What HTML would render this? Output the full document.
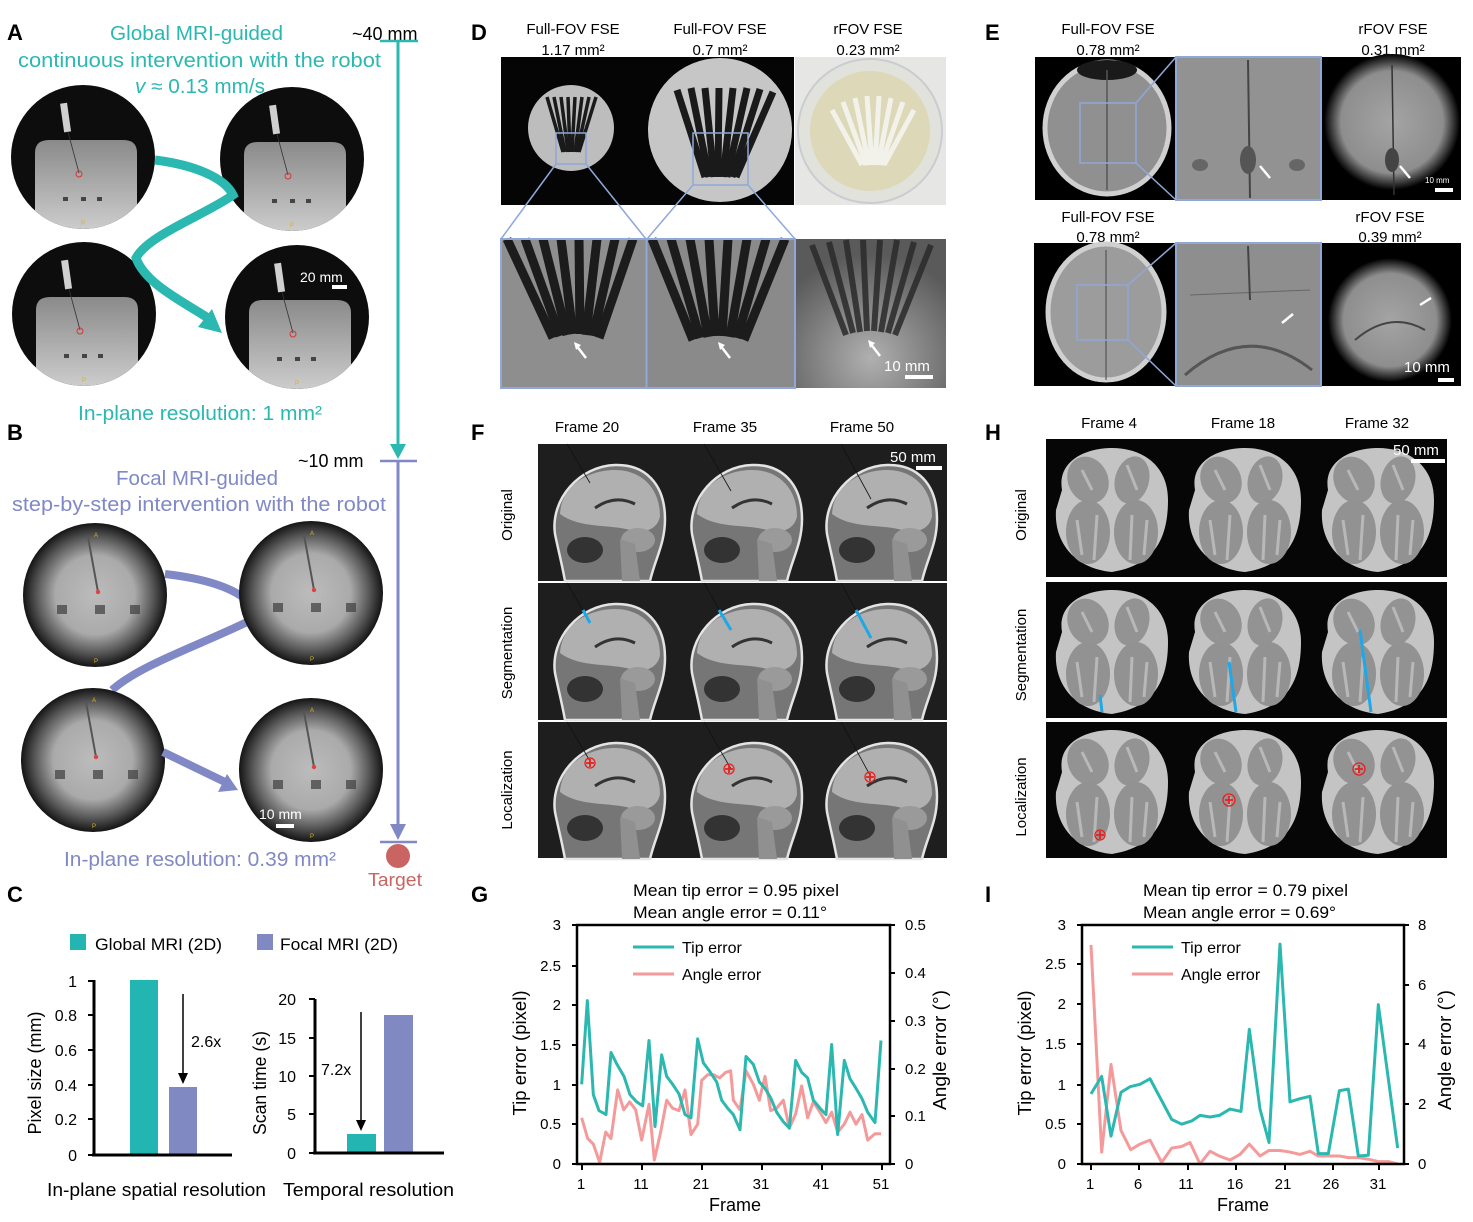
<!DOCTYPE html>
<html><head><meta charset="utf-8"><style>
html,body{margin:0;padding:0;background:#fff;}
svg{display:block;}
text{font-family:"Liberation Sans",sans-serif;}
</style></head><body>
<svg width="1473" height="1222" viewBox="0 0 1473 1222" xmlns="http://www.w3.org/2000/svg">
<defs>
<linearGradient id="gA" x1="0" y1="0" x2="0" y2="1"><stop offset="0" stop-color="#8a8a8a"/><stop offset="1" stop-color="#d2d2d2"/></linearGradient>
<radialGradient id="gB" cx=".5" cy=".5" r=".5"><stop offset="0" stop-color="#bcbcbc"/><stop offset=".55" stop-color="#aaaaaa"/><stop offset=".8" stop-color="#5a5a5a"/><stop offset="1" stop-color="#141414"/></radialGradient>
<radialGradient id="gE" cx=".5" cy=".5" r=".5"><stop offset="0" stop-color="#a4a4a4"/><stop offset=".75" stop-color="#8e8e8e"/><stop offset="1" stop-color="#000"/></radialGradient>
<radialGradient id="gD3" cx=".5" cy=".8" r=".7"><stop offset="0" stop-color="#b0b0b0"/><stop offset="1" stop-color="#5a5a5a"/></radialGradient>
<clipPath id="cA"><circle r="72"/></clipPath>
<g id="phA">
<circle r="72" fill="#0d0d0d"/>
<g clip-path="url(#cA)"><path d="M-48,80 L-48,-4 Q-48,-17 -34,-17 L40,-17 Q54,-17 54,-4 L54,80 Z" fill="url(#gA)"/></g>
<rect x="-21" y="-54" width="7" height="29" fill="#d0d0d0" transform="rotate(-8 -17 -40)"/>
<line x1="-15" y1="-25" x2="-4" y2="16" stroke="#333" stroke-width="0.8"/>
<circle cx="-4" cy="17" r="3" fill="none" stroke="#d33" stroke-width="1"/>
<rect x="-20" y="40" width="5" height="4" fill="#444"/><rect x="-2" y="40" width="5" height="4" fill="#444"/><rect x="14" y="40" width="5" height="4" fill="#444"/>
<text x="-2" y="68" font-size="6" fill="#d8b020">P</text>
</g>
<g id="phB">
<circle r="72" fill="url(#gB)"/>
<line x1="-7" y1="-58" x2="3" y2="-3" stroke="#555" stroke-width="2"/>
<circle cx="3" cy="-3" r="2.2" fill="#e04040"/>
<rect x="-38" y="10" width="10" height="9" fill="#444" opacity=".75"/><rect x="0" y="10" width="10" height="9" fill="#444" opacity=".75"/><rect x="35" y="10" width="10" height="9" fill="#444" opacity=".75"/>
<text x="-1" y="-58" font-size="6" fill="#d8b020">A</text>
<text x="-1" y="68" font-size="6" fill="#d8b020">P</text>
</g>
<g id="head">
<path d="M5,90 C0,55 30,22 65,21 C95,20 115,40 115,75 C115,100 105,115 100,137 L15,137 C12,120 8,105 5,90 Z" fill="#767676" stroke="#e4e4e4" stroke-width="2.5"/>
<path d="M10,70 C12,40 40,26 65,26 C92,26 110,45 110,72 C108,85 95,90 80,86 C60,80 30,85 10,70 Z" fill="#b0b0b0"/>
<ellipse cx="88" cy="96" rx="17" ry="12" fill="#9a9a9a"/>
<ellipse cx="35" cy="106" rx="18" ry="13" fill="#333"/>
<path d="M45,64 Q65,50 85,60" stroke="#333" stroke-width="3" fill="none"/>
<path d="M70,95 L72,137 L90,137 L85,100 Z" fill="#909090"/>
</g>
<g id="brain">
<path d="M-50,-20 C-55,-50 -25,-62 0,-62 C30,-62 56,-45 56,-10 C56,25 45,55 0,62 C-40,58 -58,30 -56,0 Z" fill="#c4c4c4"/>
<ellipse cx="-24" cy="-30" rx="20" ry="24" fill="#939393" transform="rotate(-25 -24 -30)"/>
<ellipse cx="20" cy="-30" rx="17" ry="24" fill="#939393" transform="rotate(15 20 -30)"/>
<ellipse cx="-24" cy="22" rx="22" ry="32" fill="#929292"/>
<ellipse cx="24" cy="22" rx="22" ry="32" fill="#929292"/>
<path d="M-30,-40 L-20,-20 M-35,10 L-30,45 M-15,5 L-18,50 M20,5 L18,50 M35,10 L32,45 M15,-45 L25,-20" stroke="#b8b8b8" stroke-width="3"/>
</g>
</defs>

<!-- ============ Panel letters ============ -->
<g font-size="22" font-weight="bold" fill="#000">
<text x="7" y="40">A</text><text x="7" y="440">B</text><text x="7" y="902">C</text>
<text x="471" y="40">D</text><text x="985" y="40">E</text>
<text x="471" y="440">F</text><text x="985" y="440">H</text>
<text x="471" y="902">G</text><text x="985" y="902">I</text>
</g>

<!-- ============ Panel A ============ -->
<g fill="#2bb8b0" font-size="20">
<text x="110" y="40" textLength="173" lengthAdjust="spacingAndGlyphs">Global MRI-guided</text>
<text x="18" y="67" textLength="363" lengthAdjust="spacingAndGlyphs">continuous intervention with the robot</text>
<text x="135" y="93" textLength="130" lengthAdjust="spacingAndGlyphs"><tspan font-style="italic">v</tspan> ≈ 0.13 mm/s</text>
<text x="78" y="420" textLength="244" lengthAdjust="spacingAndGlyphs">In-plane resolution: 1 mm²</text>
</g>
<use href="#phA" x="83" y="157"/>
<use href="#phA" x="292" y="159"/>
<use href="#phA" x="84" y="314"/>
<use href="#phA" x="297" y="317"/>
<path d="M155,160 C195,165 225,178 233,195 C205,215 148,235 136,258 C145,283 180,300 208,318" fill="none" stroke="#2bb8b0" stroke-width="9"/>
<polygon points="222,333 198,327 212,309" fill="#2bb8b0"/>
<text x="300" y="282" font-size="14" fill="#fff">20 mm</text>
<rect x="332" y="285" width="15" height="4" fill="#fff"/>

<!-- vertical scale -->
<text x="352" y="40" font-size="18" fill="#000">~40 mm</text>
<line x1="380" y1="41" x2="418" y2="41" stroke="#2bb8b0" stroke-width="2.5"/>
<line x1="398" y1="41" x2="398" y2="448" stroke="#2bb8b0" stroke-width="3"/>
<polygon points="390,444 406,444 398,459" fill="#2bb8b0"/>
<text x="298" y="467" font-size="18" fill="#000">~10 mm</text>
<line x1="380" y1="461" x2="417" y2="461" stroke="#8088c6" stroke-width="2.5"/>
<line x1="398" y1="461" x2="398" y2="828" stroke="#8088c6" stroke-width="3"/>
<polygon points="390,824 406,824 398,840" fill="#8088c6"/>
<line x1="380" y1="842" x2="417" y2="842" stroke="#8088c6" stroke-width="2.5"/>
<circle cx="398" cy="856" r="12" fill="#c96462"/>
<text x="368" y="886" font-size="18" fill="#c96462" textLength="54" lengthAdjust="spacingAndGlyphs">Target</text>

<!-- ============ Panel B ============ -->
<g fill="#8088c6" font-size="20">
<text x="116" y="485" textLength="162" lengthAdjust="spacingAndGlyphs">Focal MRI-guided</text>
<text x="12" y="511" textLength="374" lengthAdjust="spacingAndGlyphs">step-by-step intervention with the robot</text>
<text x="64" y="866" textLength="272" lengthAdjust="spacingAndGlyphs">In-plane resolution: 0.39 mm²</text>
</g>
<path d="M165,574 C200,578 228,586 244,598" fill="none" stroke="#8088c6" stroke-width="8"/>
<path d="M247,622 C200,645 140,665 112,690" fill="none" stroke="#8088c6" stroke-width="8"/>
<use href="#phB" x="95" y="595"/>
<use href="#phB" x="311" y="593"/>
<use href="#phB" x="93" y="760"/>
<use href="#phB" x="311" y="770"/>
<line x1="163" y1="752" x2="225" y2="782" stroke="#8088c6" stroke-width="8"/>
<polygon points="238,790 218,792 227,774" fill="#8088c6"/>
<text x="259" y="819" font-size="14" fill="#fff">10 mm</text>
<rect x="276" y="824" width="18" height="4" fill="#fff"/>

<!-- ============ Panel C ============ -->
<rect x="70" y="934" width="16" height="16" fill="#22b5b1"/>
<text x="95" y="950" font-size="17" textLength="127" lengthAdjust="spacingAndGlyphs">Global MRI (2D)</text>
<rect x="257" y="934" width="16" height="16" fill="#8189c3"/>
<text x="280" y="950" font-size="17" textLength="118" lengthAdjust="spacingAndGlyphs">Focal MRI (2D)</text>
<!-- left chart -->
<rect x="130" y="980" width="28" height="175" fill="#22b5b1"/>
<rect x="169" y="1087" width="28" height="68" fill="#8189c3"/>
<g stroke="#000" stroke-width="3" fill="none">
<line x1="94" y1="980" x2="94" y2="1156"/><line x1="92" y1="1155" x2="232" y2="1155"/>
</g>
<g stroke="#000" stroke-width="2">
<line x1="88" y1="981" x2="94" y2="981"/><line x1="88" y1="1015" x2="94" y2="1015"/><line x1="88" y1="1050" x2="94" y2="1050"/><line x1="88" y1="1085" x2="94" y2="1085"/><line x1="88" y1="1119" x2="94" y2="1119"/><line x1="88" y1="1155" x2="94" y2="1155"/>
</g>
<g font-size="16" text-anchor="end">
<text x="77" y="987">1</text><text x="77" y="1021">0.8</text><text x="77" y="1056">0.6</text><text x="77" y="1091">0.4</text><text x="77" y="1125">0.2</text><text x="77" y="1161">0</text>
</g>
<line x1="183" y1="994" x2="183" y2="1075" stroke="#000" stroke-width="1.5"/>
<polygon points="178,1073 188,1073 183,1084" fill="#000"/>
<text x="191" y="1047" font-size="16">2.6x</text>
<text transform="translate(41,1073) rotate(-90)" font-size="18" text-anchor="middle" textLength="123" lengthAdjust="spacingAndGlyphs">Pixel size (mm)</text>
<!-- right chart -->
<rect x="347" y="1134" width="29" height="19" fill="#22b5b1"/>
<rect x="384" y="1015" width="29" height="138" fill="#8189c3"/>
<g stroke="#000" stroke-width="3" fill="none">
<line x1="315" y1="999" x2="315" y2="1154"/><line x1="313" y1="1153" x2="444" y2="1153"/>
</g>
<g stroke="#000" stroke-width="2">
<line x1="309" y1="999" x2="315" y2="999"/><line x1="309" y1="1038" x2="315" y2="1038"/><line x1="309" y1="1076" x2="315" y2="1076"/><line x1="309" y1="1114" x2="315" y2="1114"/><line x1="309" y1="1153" x2="315" y2="1153"/>
</g>
<g font-size="16" text-anchor="end">
<text x="296" y="1005">20</text><text x="296" y="1044">15</text><text x="296" y="1082">10</text><text x="296" y="1120">5</text><text x="296" y="1159">0</text>
</g>
<line x1="361" y1="1012" x2="361" y2="1122" stroke="#000" stroke-width="1.5"/>
<polygon points="356,1120 366,1120 361,1131" fill="#000"/>
<text x="321" y="1075" font-size="16">7.2x</text>
<text transform="translate(266,1083) rotate(-90)" font-size="18" text-anchor="middle" textLength="104" lengthAdjust="spacingAndGlyphs">Scan time (s)</text>
<text x="47" y="1196" font-size="18" textLength="219" lengthAdjust="spacingAndGlyphs">In-plane spatial resolution</text>
<text x="283" y="1196" font-size="18" textLength="171" lengthAdjust="spacingAndGlyphs">Temporal resolution</text>

<!-- ============ Panel D ============ -->
<g font-size="15" text-anchor="middle">
<text x="573" y="34">Full-FOV FSE</text><text x="573" y="55">1.17 mm²</text>
<text x="720" y="34">Full-FOV FSE</text><text x="720" y="55">0.7 mm²</text>
<text x="868" y="34">rFOV FSE</text><text x="868" y="55">0.23 mm²</text>
</g>
<rect x="501" y="57" width="293" height="148" fill="#050505"/>
<circle cx="571" cy="128" r="43" fill="#bdbdbd"/>
<g stroke="#1a1a1a" stroke-width="3.5">
<line x1="547" y1="97" x2="563" y2="152"/><line x1="554" y1="97" x2="565" y2="152"/><line x1="561" y1="97" x2="568" y2="152"/><line x1="568" y1="97" x2="570" y2="152"/><line x1="575" y1="97" x2="572" y2="152"/><line x1="582" y1="97" x2="575" y2="152"/><line x1="589" y1="97" x2="577" y2="152"/><line x1="596" y1="97" x2="579" y2="152"/>
</g>
<circle cx="720" cy="130" r="72" fill="#c6c6c6"/>
<g stroke="#1a1a1a" stroke-width="7">
<line x1="677" y1="90" x2="705" y2="177"/><line x1="691" y1="88" x2="709" y2="177"/><line x1="705" y1="88" x2="714" y2="177"/><line x1="719" y1="88" x2="718" y2="177"/><line x1="733" y1="88" x2="723" y2="177"/><line x1="747" y1="88" x2="727" y2="177"/><line x1="760" y1="89" x2="732" y2="177"/><line x1="773" y1="92" x2="736" y2="177"/>
</g>
<rect x="556" y="133" width="30" height="31" fill="none" stroke="#8fa8d8" stroke-width="1.5"/>
<rect x="693" y="133" width="55" height="52" fill="none" stroke="#8fa8d8" stroke-width="1.5"/>
<rect x="795" y="57" width="151" height="148" fill="#e6e6e4"/>
<circle cx="870" cy="131" r="72" fill="#e2e2dc" stroke="#c9ccd0" stroke-width="2"/>
<circle cx="870" cy="131" r="60" fill="#dcd8b8"/>
<g stroke="#f2f2ea" stroke-width="5">
<line x1="832" y1="110" x2="862" y2="165"/><line x1="843" y1="102" x2="866" y2="165"/><line x1="855" y1="98" x2="869" y2="165"/><line x1="867" y1="96" x2="872" y2="165"/><line x1="879" y1="96" x2="875" y2="165"/><line x1="891" y1="98" x2="878" y2="165"/><line x1="903" y1="102" x2="881" y2="165"/><line x1="914" y1="110" x2="884" y2="165"/>
</g>
<g stroke="#8fa8d8" stroke-width="1.5">
<line x1="556" y1="164" x2="501" y2="239"/><line x1="586" y1="164" x2="646" y2="239"/>
<line x1="693" y1="185" x2="647" y2="239"/><line x1="748" y1="185" x2="795" y2="239"/>
</g>
<rect x="501" y="239" width="145" height="149" fill="#8e8e8e"/>
<g stroke="#1c1c1c" stroke-width="9">
<line x1="507" y1="239" x2="553" y2="338"/><line x1="525" y1="239" x2="560" y2="336"/><line x1="543" y1="239" x2="567" y2="335"/><line x1="561" y1="239" x2="573" y2="334"/><line x1="579" y1="239" x2="580" y2="334"/><line x1="597" y1="239" x2="586" y2="335"/><line x1="615" y1="239" x2="593" y2="336"/><line x1="633" y1="239" x2="599" y2="338"/>
</g>
<rect x="647" y="239" width="148" height="149" fill="#8a8a8a"/>
<g stroke="#1c1c1c" stroke-width="9">
<line x1="652" y1="239" x2="693" y2="340"/><line x1="671" y1="239" x2="700" y2="338"/><line x1="690" y1="239" x2="708" y2="337"/><line x1="709" y1="239" x2="715" y2="336"/><line x1="728" y1="239" x2="722" y2="336"/><line x1="747" y1="239" x2="730" y2="337"/><line x1="766" y1="239" x2="737" y2="338"/><line x1="785" y1="239" x2="744" y2="340"/>
</g>
<rect x="501" y="239" width="294" height="149" fill="none" stroke="#8fa8d8" stroke-width="2"/>
<line x1="646.5" y1="239" x2="646.5" y2="388" stroke="#8fa8d8" stroke-width="2"/>
<rect x="796" y="239" width="150" height="149" fill="url(#gD3)"/>
<g stroke="#2a2a2a" stroke-width="6" opacity=".85">
<line x1="812" y1="245" x2="846" y2="335"/><line x1="829" y1="242" x2="853" y2="333"/><line x1="846" y1="240" x2="860" y2="332"/><line x1="863" y1="240" x2="867" y2="331"/><line x1="880" y1="240" x2="874" y2="331"/><line x1="897" y1="240" x2="881" y2="332"/><line x1="914" y1="242" x2="888" y2="333"/><line x1="931" y1="245" x2="895" y2="335"/>
</g>
<g stroke="#fff" stroke-width="2.5">
<line x1="586" y1="358" x2="576" y2="345"/><line x1="730" y1="358" x2="720" y2="345"/><line x1="880" y1="356" x2="870" y2="343"/>
</g>
<g fill="#fff"><polygon points="574,342 581,345 576,350"/><polygon points="718,342 725,345 720,350"/><polygon points="868,340 875,343 870,348"/></g>
<text x="884" y="371" font-size="15" fill="#fff">10 mm</text>
<rect x="905" y="375" width="28" height="4" fill="#fff"/>

<!-- ============ Panel E ============ -->
<g font-size="15" text-anchor="middle">
<text x="1108" y="34">Full-FOV FSE</text><text x="1108" y="55">0.78 mm²</text>
<text x="1393" y="34">rFOV FSE</text><text x="1393" y="55">0.31 mm²</text>
<text x="1108" y="222">Full-FOV FSE</text><text x="1108" y="242">0.78 mm²</text>
<text x="1390" y="222">rFOV FSE</text><text x="1390" y="242">0.39 mm²</text>
</g>
<rect x="1035" y="57" width="140" height="143" fill="#000"/>
<ellipse cx="1107" cy="128" rx="62" ry="66" fill="#909090" stroke="#d0d0d0" stroke-width="5"/>
<ellipse cx="1107" cy="70" rx="30" ry="10" fill="#1a1a1a"/>
<line x1="1107" y1="70" x2="1107" y2="190" stroke="#555" stroke-width="1.5"/>
<rect x="1080" y="103" width="56" height="60" fill="none" stroke="#8fa8d8" stroke-width="1.5"/>
<rect x="1176" y="57" width="145" height="143" fill="#929292"/>
<line x1="1248" y1="60" x2="1250" y2="198" stroke="#444" stroke-width="2"/>
<ellipse cx="1248" cy="160" rx="8" ry="14" fill="#555"/>
<ellipse cx="1200" cy="165" rx="8" ry="6" fill="#666"/><ellipse cx="1297" cy="165" rx="8" ry="6" fill="#666"/>
<line x1="1270" y1="178" x2="1260" y2="166" stroke="#fff" stroke-width="2.5"/>
<rect x="1176" y="57" width="145" height="143" fill="none" stroke="#8fa8d8" stroke-width="2"/>
<g stroke="#8fa8d8" stroke-width="1.5"><line x1="1136" y1="103" x2="1176" y2="57"/><line x1="1136" y1="163" x2="1176" y2="200"/></g>
<rect x="1322" y="57" width="139" height="143" fill="#000"/>
<circle cx="1392" cy="122" r="68" fill="url(#gE)"/>
<line x1="1392" y1="65" x2="1394" y2="195" stroke="#333" stroke-width="1.5"/>
<ellipse cx="1392" cy="160" rx="7" ry="12" fill="#444"/>
<line x1="1410" y1="178" x2="1400" y2="166" stroke="#fff" stroke-width="2.5"/>
<text x="1425" y="183" font-size="8" fill="#fff">10 mm</text>
<rect x="1435" y="188" width="18" height="4" fill="#fff"/>

<rect x="1034" y="243" width="141" height="143" fill="#000"/>
<ellipse cx="1106" cy="312" rx="58" ry="68" fill="#9c9c9c" stroke="#d0d0d0" stroke-width="5"/>
<line x1="1106" y1="250" x2="1106" y2="380" stroke="#555" stroke-width="1.2"/>
<rect x="1077" y="285" width="51" height="55" fill="none" stroke="#8fa8d8" stroke-width="1.5"/>
<rect x="1176" y="243" width="145" height="143" fill="#8e8e8e"/>
<path d="M1185,375 Q1248,320 1312,370" stroke="#555" stroke-width="3" fill="none"/>
<line x1="1190" y1="295" x2="1310" y2="290" stroke="#666" stroke-width="1"/>
<line x1="1248" y1="246" x2="1250" y2="300" stroke="#444" stroke-width="2"/>
<line x1="1282" y1="323" x2="1293" y2="314" stroke="#fff" stroke-width="2.5"/>
<rect x="1176" y="243" width="145" height="143" fill="none" stroke="#8fa8d8" stroke-width="2"/>
<g stroke="#8fa8d8" stroke-width="1.5"><line x1="1128" y1="285" x2="1176" y2="243"/><line x1="1128" y1="340" x2="1176" y2="386"/></g>
<rect x="1322" y="243" width="139" height="143" fill="#000"/>
<circle cx="1390" cy="320" r="62" fill="url(#gE)"/>
<path d="M1355,340 Q1390,310 1425,330" stroke="#444" stroke-width="2" fill="none"/>
<line x1="1420" y1="305" x2="1431" y2="298" stroke="#fff" stroke-width="2.5"/>
<text x="1404" y="372" font-size="15" fill="#fff">10 mm</text>
<rect x="1438" y="378" width="16" height="4" fill="#fff"/>

<!-- ============ Panel F ============ -->
<g font-size="15" text-anchor="middle">
<text x="587" y="432">Frame 20</text><text x="725" y="432">Frame 35</text><text x="862" y="432">Frame 50</text>
</g>
<g font-size="15" text-anchor="middle">
<text transform="translate(512,515) rotate(-90)">Original</text>
<text transform="translate(512,653) rotate(-90)">Segmentation</text>
<text transform="translate(512,790) rotate(-90)">Localization</text>
</g>
<rect x="538" y="444" width="409" height="137" fill="#1e1e1e"/>
<rect x="538" y="583" width="409" height="137" fill="#1e1e1e"/>
<rect x="538" y="722" width="409" height="136" fill="#1e1e1e"/>
<use href="#head" x="550" y="444"/><use href="#head" x="687" y="444"/><use href="#head" x="822" y="444"/>
<use href="#head" x="550" y="583"/><use href="#head" x="687" y="583"/><use href="#head" x="822" y="583"/>
<use href="#head" x="550" y="722"/><use href="#head" x="822" y="722"/><use href="#head" x="687" y="722"/>
<g stroke="#111" stroke-width="0.8">
<line x1="567" y1="444" x2="590" y2="483"/><line x1="704" y1="444" x2="731" y2="491"/><line x1="841" y1="444" x2="871" y2="499"/>
<line x1="567" y1="583" x2="590" y2="622"/><line x1="704" y1="583" x2="731" y2="630"/><line x1="841" y1="583" x2="871" y2="638"/>
<line x1="567" y1="722" x2="590" y2="761"/><line x1="704" y1="722" x2="731" y2="769"/><line x1="841" y1="722" x2="871" y2="777"/>
</g>
<g stroke="#1ea8e8" stroke-width="3">
<line x1="583" y1="610" x2="590" y2="623"/><line x1="719" y1="610" x2="731" y2="630"/><line x1="856" y1="610" x2="871" y2="638"/>
</g>
<g stroke="#e82020" fill="none" stroke-width="1.3">
<circle cx="590" cy="763" r="5"/><circle cx="729" cy="769" r="5"/><circle cx="870" cy="777" r="5"/>
<path d="M586,763 h8 M590,759 v8 M725,769 h8 M729,765 v8 M866,777 h8 M870,773 v8" stroke-width="1.8"/>
</g>
<text x="890" y="462" font-size="15" fill="#fff">50 mm</text>
<rect x="916" y="466" width="26" height="4" fill="#fff"/>

<!-- ============ Panel H ============ -->
<g font-size="15" text-anchor="middle">
<text x="1109" y="428">Frame 4</text><text x="1243" y="428">Frame 18</text><text x="1377" y="428">Frame 32</text>
</g>
<g font-size="15" text-anchor="middle">
<text transform="translate(1026,515) rotate(-90)">Original</text>
<text transform="translate(1026,655) rotate(-90)">Segmentation</text>
<text transform="translate(1026,797) rotate(-90)">Localization</text>
</g>
<rect x="1046" y="439" width="401" height="138" fill="#060606"/>
<rect x="1046" y="582" width="401" height="136" fill="#060606"/>
<rect x="1046" y="722" width="401" height="136" fill="#060606"/>
<use href="#brain" x="1112" y="510"/><use href="#brain" x="1245" y="510"/><use href="#brain" x="1378" y="510"/>
<use href="#brain" x="1112" y="652"/><use href="#brain" x="1245" y="652"/><use href="#brain" x="1378" y="652"/>
<use href="#brain" x="1112" y="792"/><use href="#brain" x="1245" y="792"/><use href="#brain" x="1378" y="792"/>
<g stroke="#1ea8e8" stroke-width="3">
<line x1="1100" y1="695" x2="1102" y2="712"/><line x1="1229" y1="662" x2="1236" y2="712"/><line x1="1360" y1="630" x2="1371" y2="712"/>
</g>
<g stroke="#e82020" fill="none" stroke-width="1.3">
<circle cx="1100" cy="835" r="5"/><circle cx="1229" cy="800" r="6"/><circle cx="1359" cy="769" r="6"/>
<path d="M1096,835 h8 M1100,831 v8 M1225,800 h8 M1229,796 v8 M1355,769 h8 M1359,765 v8" stroke-width="1.8"/>
</g>
<text x="1393" y="455" font-size="15" fill="#fff">50 mm</text>
<rect x="1411" y="459" width="34" height="4" fill="#fff"/>

<!-- ============ Panel G ============ -->
<g font-size="17">
<text x="633" y="896" textLength="206" lengthAdjust="spacingAndGlyphs">Mean tip error = 0.95 pixel</text>
<text x="633" y="918" textLength="194" lengthAdjust="spacingAndGlyphs">Mean angle error = 0.11°</text>
</g>
<g transform="translate(500,1164) scale(0.33333,-79.667)" fill="none" stroke-linejoin="round">
<polyline vector-effect="non-scaling-stroke" stroke="#f59a9a" stroke-width="3" points="245,0.58 263,0.32 280,0.25 299,0.02 317,0.4 333,0.32 353,0.93 371,0.68 389,0.78 407,0.68 425,0.3 447,0.75 463,0.05 482,0.4 500,0.8 518,0.7 537,0.67 555,0.93 573,0.37 593,0.5 605,1.05 623,1.12 641,1.12 659,1.08 677,1.15 692,1.17 700,0.8 720,0.68 738,1.17 760,1.0 778,0.8 795,1.1 812,0.67 830,0.7 850,0.8 868,0.45 887,0.63 905,0.98 923,0.58 940,0.78 960,0.65 978,0.52 995,0.65 1013,0.4 1033,0.5 1050,0.65 1068,0.5 1086,0.62 1103,0.3 1125,0.38 1143,0.38"/>
<polyline vector-effect="non-scaling-stroke" stroke="#2bb8b0" stroke-width="3" points="245,1.0 262,2.05 280,0.87 297,0.67 318,0.62 333,1.4 351,1.25 372,1.1 390,0.87 410,0.78 428,0.73 447,1.55 465,0.47 485,1.37 500,1.1 518,1.0 537,0.88 555,0.62 573,0.58 593,1.57 610,1.27 628,1.17 650,1.03 665,0.8 683,0.7 700,0.62 720,0.43 738,1.35 760,1.25 778,1.03 795,0.95 812,0.83 830,0.65 850,0.53 868,0.45 887,1.3 905,1.15 923,1.08 940,0.8 960,0.7 978,0.62 995,1.5 1013,0.37 1033,1.3 1050,1.07 1068,0.95 1086,0.82 1103,0.65 1125,0.52 1143,1.55"/>
</g>
<g stroke="#000" stroke-width="2.5" fill="none">
<rect x="577" y="925" width="313" height="239"/>
</g>
<g stroke="#000" stroke-width="2">
<line x1="572" y1="925" x2="577" y2="925"/><line x1="572" y1="966" x2="577" y2="966"/><line x1="572" y1="1005" x2="577" y2="1005"/><line x1="572" y1="1045" x2="577" y2="1045"/><line x1="572" y1="1085" x2="577" y2="1085"/><line x1="572" y1="1124" x2="577" y2="1124"/><line x1="572" y1="1164" x2="577" y2="1164"/>
<line x1="890" y1="925" x2="895" y2="925"/><line x1="890" y1="973" x2="895" y2="973"/><line x1="890" y1="1021" x2="895" y2="1021"/><line x1="890" y1="1069" x2="895" y2="1069"/><line x1="890" y1="1116" x2="895" y2="1116"/><line x1="890" y1="1164" x2="895" y2="1164"/>
<line x1="582" y1="1164" x2="582" y2="1170"/><line x1="642" y1="1164" x2="642" y2="1170"/><line x1="702" y1="1164" x2="702" y2="1170"/><line x1="762" y1="1164" x2="762" y2="1170"/><line x1="822" y1="1164" x2="822" y2="1170"/><line x1="882" y1="1164" x2="882" y2="1170"/>
</g>
<g font-size="15" text-anchor="end">
<text x="561" y="930">3</text><text x="561" y="971">2.5</text><text x="561" y="1010">2</text><text x="561" y="1050">1.5</text><text x="561" y="1090">1</text><text x="561" y="1129">0.5</text><text x="561" y="1169">0</text>
</g>
<g font-size="15">
<text x="905" y="930">0.5</text><text x="905" y="978">0.4</text><text x="905" y="1026">0.3</text><text x="905" y="1074">0.2</text><text x="905" y="1121">0.1</text><text x="905" y="1169">0</text>
</g>
<g font-size="15" text-anchor="middle">
<text x="581" y="1189">1</text><text x="641" y="1189">11</text><text x="701" y="1189">21</text><text x="761" y="1189">31</text><text x="821" y="1189">41</text><text x="881" y="1189">51</text>
</g>
<text x="735" y="1211" font-size="18" text-anchor="middle">Frame</text>
<text transform="translate(526,1053) rotate(-90)" font-size="18" text-anchor="middle" textLength="125" lengthAdjust="spacingAndGlyphs">Tip error (pixel)</text>
<text transform="translate(946,1050) rotate(-90)" font-size="18" text-anchor="middle" textLength="120" lengthAdjust="spacingAndGlyphs">Angle error (°)</text>
<line x1="633" y1="947" x2="674" y2="947" stroke="#2bb8b0" stroke-width="3"/>
<text x="682" y="953" font-size="16">Tip error</text>
<line x1="633" y1="974" x2="674" y2="974" stroke="#f59a9a" stroke-width="3"/>
<text x="682" y="980" font-size="16">Angle error</text>

<!-- ============ Panel I ============ -->
<g font-size="17">
<text x="1143" y="896" textLength="205" lengthAdjust="spacingAndGlyphs">Mean tip error = 0.79 pixel</text>
<text x="1143" y="918" textLength="193" lengthAdjust="spacingAndGlyphs">Mean angle error = 0.69°</text>
</g>
<g transform="translate(1010,1164) scale(0.33333,-79.667)" fill="none" stroke-linejoin="round">
<polyline vector-effect="non-scaling-stroke" stroke="#f59a9a" stroke-width="3" points="243,2.75 275,0.15 303,1.25 333,0.42 362,0.18 390,0.25 420,0.3 455,0.02 485,0.2 515,0.22 540,0.27 570,0.0 600,0.16 628,0.1 660,0.05 690,0.12 718,0.25 750,0.1 777,0.17 810,0.17 840,0.15 870,0.12 900,0.16 925,0.1 955,0.1 988,0.1 1015,0.08 1045,0.08 1075,0.06 1105,0.03 1135,0.03 1163,0.0"/>
<polyline vector-effect="non-scaling-stroke" stroke="#2bb8b0" stroke-width="3" points="243,0.88 275,1.1 303,0.35 333,0.9 360,0.97 390,1.0 420,1.07 485,0.56 515,0.5 545,0.54 570,0.61 600,0.59 628,0.61 660,0.69 693,0.66 718,1.69 750,0.69 777,0.27 810,2.76 840,0.78 870,0.82 900,0.85 925,0.13 955,0.13 988,0.92 1015,0.94 1045,0.1 1075,0.11 1105,2.0 1163,0.2"/>
</g>
<g stroke="#000" stroke-width="2.5" fill="none">
<rect x="1082" y="925" width="322" height="239"/>
</g>
<g stroke="#000" stroke-width="2">
<line x1="1077" y1="925" x2="1082" y2="925"/><line x1="1077" y1="964" x2="1082" y2="964"/><line x1="1077" y1="1004" x2="1082" y2="1004"/><line x1="1077" y1="1044" x2="1082" y2="1044"/><line x1="1077" y1="1085" x2="1082" y2="1085"/><line x1="1077" y1="1124" x2="1082" y2="1124"/><line x1="1077" y1="1164" x2="1082" y2="1164"/>
<line x1="1404" y1="925" x2="1409" y2="925"/><line x1="1404" y1="985" x2="1409" y2="985"/><line x1="1404" y1="1044" x2="1409" y2="1044"/><line x1="1404" y1="1104" x2="1409" y2="1104"/><line x1="1404" y1="1164" x2="1409" y2="1164"/>
<line x1="1091" y1="1164" x2="1091" y2="1170"/><line x1="1139" y1="1164" x2="1139" y2="1170"/><line x1="1188" y1="1164" x2="1188" y2="1170"/><line x1="1236" y1="1164" x2="1236" y2="1170"/><line x1="1285" y1="1164" x2="1285" y2="1170"/><line x1="1333" y1="1164" x2="1333" y2="1170"/><line x1="1379" y1="1164" x2="1379" y2="1170"/>
</g>
<g font-size="15" text-anchor="end">
<text x="1066" y="930">3</text><text x="1066" y="969">2.5</text><text x="1066" y="1009">2</text><text x="1066" y="1049">1.5</text><text x="1066" y="1090">1</text><text x="1066" y="1129">0.5</text><text x="1066" y="1169">0</text>
</g>
<g font-size="15">
<text x="1418" y="930">8</text><text x="1418" y="990">6</text><text x="1418" y="1049">4</text><text x="1418" y="1109">2</text><text x="1418" y="1169">0</text>
</g>
<g font-size="15" text-anchor="middle">
<text x="1090" y="1189">1</text><text x="1138" y="1189">6</text><text x="1186" y="1189">11</text><text x="1235" y="1189">16</text><text x="1283" y="1189">21</text><text x="1331" y="1189">26</text><text x="1378" y="1189">31</text>
</g>
<text x="1243" y="1211" font-size="18" text-anchor="middle">Frame</text>
<text transform="translate(1031,1053) rotate(-90)" font-size="18" text-anchor="middle" textLength="125" lengthAdjust="spacingAndGlyphs">Tip error (pixel)</text>
<text transform="translate(1451,1050) rotate(-90)" font-size="18" text-anchor="middle" textLength="120" lengthAdjust="spacingAndGlyphs">Angle error (°)</text>
<line x1="1132" y1="947" x2="1173" y2="947" stroke="#2bb8b0" stroke-width="3"/>
<text x="1181" y="953" font-size="16">Tip error</text>
<line x1="1132" y1="974" x2="1173" y2="974" stroke="#f59a9a" stroke-width="3"/>
<text x="1181" y="980" font-size="16">Angle error</text>
</svg>
</body></html>
